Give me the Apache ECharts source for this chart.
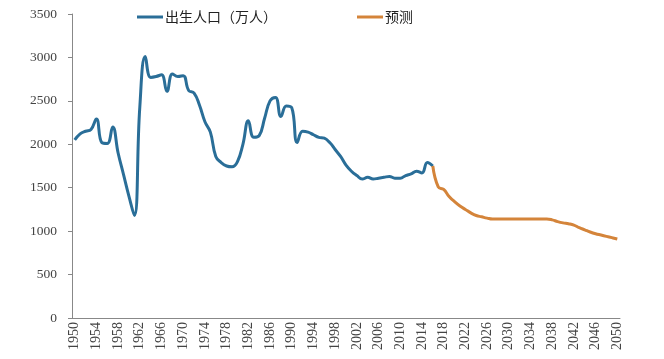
<!DOCTYPE html>
<html><head><meta charset="utf-8">
<script src="https://cdn.jsdelivr.net/npm/echarts@6/dist/echarts.min.js"></script>
<style>html,body{margin:0;padding:0;background:#fff}#c{width:664px;height:359px}</style>
</head><body><div id="c"></div>
<script>
var startYear = 1950, endYear = 2050;
var years = [];
for (var y = startYear; y <= endYear; y++) years.push(String(y));

// 出生人口（万人） 1950–2016
var births = [2050,2120,2150,2170,2290,2020,2010,2200,1900,1650,1400,1180,2430,3010,2770,2780,2800,2610,2810,2780,2790,2620,2590,2450,2260,2140,1860,1790,1750,1740,1800,2000,2270,2080,2100,2300,2500,2540,2320,2440,2420,2020,2150,2140,2110,2080,2070,2020,1940,1860,1760,1690,1640,1600,1620,1600,1610,1620,1630,1610,1610,1640,1660,1690,1670,1790,1750];
// 预测 2016–2050
var forecast = [1750,1510,1480,1400,1340,1290,1250,1210,1180,1165,1150,1140,1140,1140,1140,1140,1140,1140,1140,1140,1140,1140,1130,1110,1095,1085,1070,1040,1015,990,970,955,940,925,910];
var forecastStart = 2016;

var birthsData = years.map(function(_, i){ return i < births.length ? births[i] : null; });
var forecastData = years.map(function(yr){ var k = +yr - forecastStart; return (k >= 0 && k < forecast.length) ? forecast[k] : null; });

var chart = echarts.init(document.getElementById('c'), null, {renderer:'canvas'});
chart.setOption({
  animation:false,
  backgroundColor:'#fff',
  legend:{
    left:132, top:5, itemWidth:26, itemHeight:3, itemGap:80, icon:'rect',
    textStyle:{fontFamily:'Noto Sans CJK SC', fontSize:14, color:'#222', padding:[0,0,0,-3]},
    data:['出生人口（万人）','预测']
  },
  grid:{left:72, right:44, top:14, bottom:41},
  xAxis:{
    type:'category', data:years, boundaryGap:true,
    axisLine:{lineStyle:{color:'#888', width:1}},
    axisTick:{interval:0, length:3, lineStyle:{color:'#888'}},
    axisLabel:{interval:3, rotate:90, fontFamily:'Liberation Serif', fontSize:14, color:'#444', margin:4}
  },
  yAxis:{
    type:'value', min:0, max:3500, interval:500,
    axisLine:{show:true, lineStyle:{color:'#888', width:1}},
    axisTick:{show:true, length:4, lineStyle:{color:'#888'}},
    splitLine:{show:false},
    axisLabel:{fontFamily:'Liberation Serif', fontSize:13.5, color:'#444', margin:15,
      formatter:function(v){ return String(v); }}
  },
  series:[
    {name:'出生人口（万人）', type:'line', data:birthsData, smooth:0.45, showSymbol:false,
     lineStyle:{color:'#2a6e98', width:3}, itemStyle:{color:'#2a6e98'}},
    {name:'预测', type:'line', data:forecastData, smooth:0.45, showSymbol:false,
     lineStyle:{color:'#d4843a', width:3}, itemStyle:{color:'#d4843a'}}
  ]
});
</script></body></html>
